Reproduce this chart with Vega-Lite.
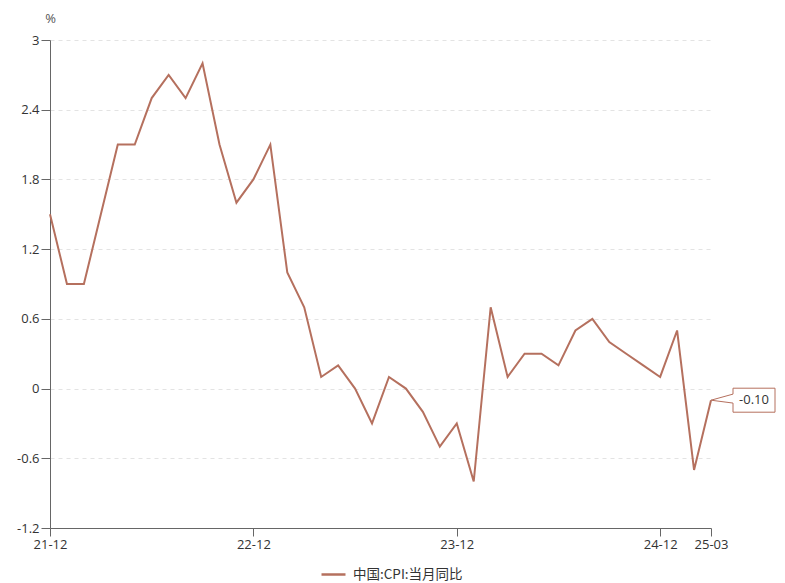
{
  "$schema": "https://vega.github.io/schema/vega-lite/v6.json",
  "width": 661,
  "height": 488,
  "autosize": "none",
  "padding": {"left": 50, "top": 40, "right": 74, "bottom": 55},
  "background": "white",
  "config": {
    "view": {"stroke": null},
    "font": "Open Sans"
  },
  "data": {
    "values": [
      {"m": "21-12", "v": 1.5}, {"m": "22-01", "v": 0.9}, {"m": "22-02", "v": 0.9},
      {"m": "22-03", "v": 1.5}, {"m": "22-04", "v": 2.1}, {"m": "22-05", "v": 2.1},
      {"m": "22-06", "v": 2.5}, {"m": "22-07", "v": 2.7}, {"m": "22-08", "v": 2.5},
      {"m": "22-09", "v": 2.8}, {"m": "22-10", "v": 2.1}, {"m": "22-11", "v": 1.6},
      {"m": "22-12", "v": 1.8}, {"m": "23-01", "v": 2.1}, {"m": "23-02", "v": 1.0},
      {"m": "23-03", "v": 0.7}, {"m": "23-04", "v": 0.1}, {"m": "23-05", "v": 0.2},
      {"m": "23-06", "v": 0.0}, {"m": "23-07", "v": -0.3}, {"m": "23-08", "v": 0.1},
      {"m": "23-09", "v": 0.0}, {"m": "23-10", "v": -0.2}, {"m": "23-11", "v": -0.5},
      {"m": "23-12", "v": -0.3}, {"m": "24-01", "v": -0.8}, {"m": "24-02", "v": 0.7},
      {"m": "24-03", "v": 0.1}, {"m": "24-04", "v": 0.3}, {"m": "24-05", "v": 0.3},
      {"m": "24-06", "v": 0.2}, {"m": "24-07", "v": 0.5}, {"m": "24-08", "v": 0.6},
      {"m": "24-09", "v": 0.4}, {"m": "24-10", "v": 0.3}, {"m": "24-11", "v": 0.2},
      {"m": "24-12", "v": 0.1}, {"m": "25-01", "v": 0.5}, {"m": "25-02", "v": -0.7},
      {"m": "25-03", "v": -0.1}
    ]
  },
  "encoding": {
    "x": {
      "field": "m",
      "type": "ordinal",
      "sort": null,
      "scale": {"type": "point", "padding": 0},
      "axis": {
        "title": null,
        "values": ["21-12", "22-12", "23-12", "24-12", "25-03"],
        "labelAngle": 0,
        "labelFontSize": 13,
        "labelColor": "#333333",
        "labelPadding": 2,
        "tickSize": 8,
        "tickColor": "#666666",
        "domainColor": "#666666",
        "grid": false
      }
    },
    "y": {
      "field": "v",
      "type": "quantitative",
      "scale": {"domain": [-1.2, 3], "nice": false, "zero": false},
      "axis": {
        "values": [-1.2, -0.6, 0, 0.6, 1.2, 1.8, 2.4, 3],
        "labelExpr": "datum.value + ''",
        "labelFontSize": 13,
        "labelColor": "#333333",
        "labelPadding": 2,
        "tickSize": 9,
        "tickColor": "#666666",
        "domainColor": "#666666",
        "gridColor": "#e3e3e3",
        "gridDash": [4, 4],
        "title": "%",
        "titleAngle": 0,
        "titleX": 0,
        "titleY": -22,
        "titleAlign": "center",
        "titleBaseline": "middle",
        "titleFontSize": 13,
        "titleFontWeight": "normal",
        "titleColor": "#555555"
      }
    }
  },
  "layer": [
    {
      "mark": {"type": "line", "strokeWidth": 2},
      "encoding": {
        "color": {
          "datum": "中国:CPI:当月同比",
          "scale": {"range": ["#b5705e"]},
          "legend": {
            "title": null,
            "orient": "none",
            "legendX": 270,
            "legendY": 521,
            "symbolType": "stroke",
            "symbolSize": 576,
            "symbolStrokeWidth": 2.5,
            "labelFont": "Noto Sans CJK SC",
            "labelFontSize": 13.5,
            "labelColor": "#333333",
            "labelOffset": 6
          }
        }
      }
    },
    {
      "transform": [{"filter": "datum.m === '25-03'"}],
      "mark": {
        "type": "point",
        "shape": "M -1 0 L -0.3125 -0.19 L -0.3125 -0.375 L 1 -0.375 L 1 0.375 L -0.3125 0.375 L -0.3125 0.09 Z",
        "size": 4096,
        "xOffset": 32,
        "filled": true,
        "fill": "white",
        "stroke": "#b5705e",
        "strokeWidth": 1,
        "opacity": 1
      }
    },
    {
      "transform": [
        {"filter": "datum.m === '25-03'"},
        {"calculate": "replace(format(datum.v, '.2f'), '\u2212', '-')", "as": "lbl"}
      ],
      "mark": {
        "type": "text",
        "xOffset": 43,
        "align": "center",
        "baseline": "middle",
        "fontSize": 13,
        "color": "#333333"
      },
      "encoding": {
        "text": {"field": "lbl", "type": "nominal"}
      }
    }
  ]
}
